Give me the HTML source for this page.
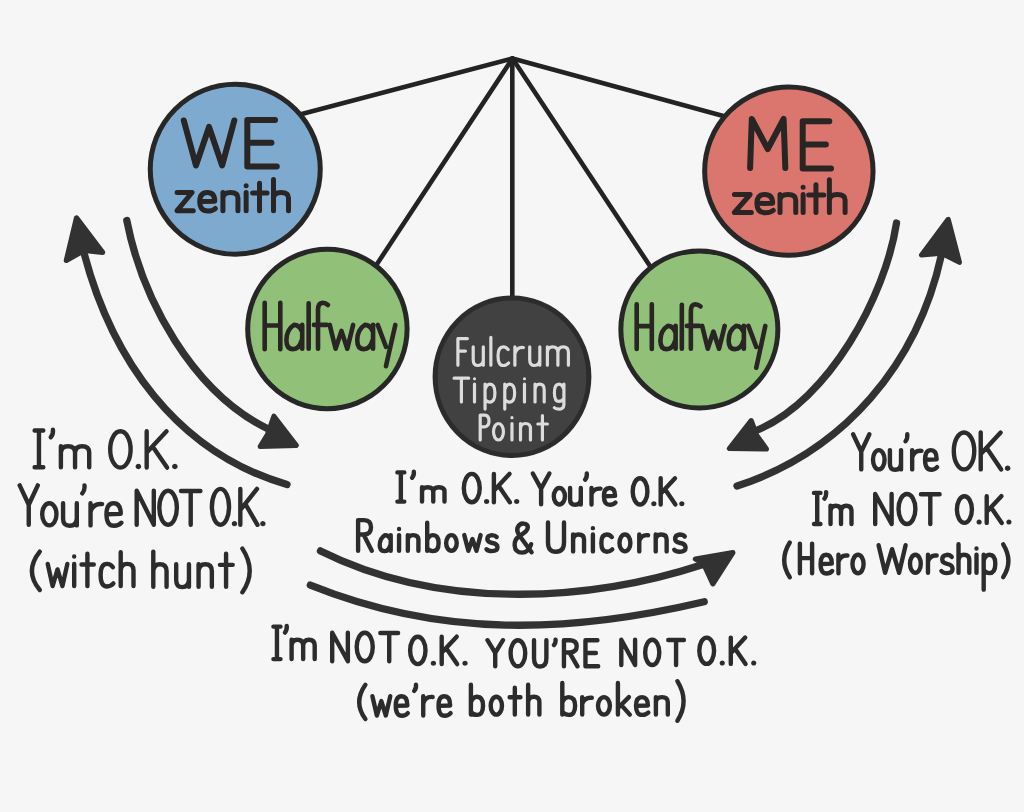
<!DOCTYPE html>
<html><head><meta charset="utf-8">
<style>
html,body{margin:0;padding:0;background:#f6f6f6;}
body{width:1024px;height:812px;overflow:hidden;}
svg{display:block;}
text{font-family:"Liberation Sans",sans-serif;}
</style></head><body>
<svg width="1024" height="812" viewBox="0 0 1024 812">
<rect width="1024" height="812" fill="#f6f6f6"/>
<!-- pendulum lines -->
<g stroke="#232323" stroke-width="4.6" stroke-linecap="round" fill="none">
<line x1="512.5" y1="58.5" x2="298" y2="115"/>
<line x1="512.5" y1="58.5" x2="727" y2="117"/>
<line x1="512.5" y1="58.5" x2="375.7" y2="266"/>
<line x1="512.5" y1="58.5" x2="651.8" y2="268.8"/>
<line x1="512.3" y1="58.5" x2="512.3" y2="300"/>
</g>
<!-- circles -->
<g stroke="#272727" stroke-width="5">
<circle cx="235.25" cy="169.25" r="85" fill="#7eaacf"/>
<circle cx="788.85" cy="171.1" r="84.2" fill="#db766f"/>
<circle cx="327.4" cy="329" r="79.7" fill="#91c078"/>
<circle cx="699.35" cy="329.4" r="78.5" fill="#91c078"/>
<ellipse cx="512" cy="376.8" rx="76.9" ry="78.7" fill="#404140" stroke="#2c2c2c"/>
</g>
<!-- arrows -->
<g stroke="#323232" stroke-width="7.3" stroke-linecap="round" fill="none">
<path d="M287.0 484.5 C176.0 452.3 111.1 357.9 83.5 251.0"/>
<path d="M126.8 220.5 C142.4 300.1 192.6 391.6 267.2 428.6"/>
<path d="M896.5 223.0 C885.4 296.3 828.9 400.0 757.4 430.0"/>
<path d="M737.0 486.0 C844.3 451.4 917.7 363.4 941.4 255.0"/>
<path d="M320.5 550.9 C436.2 608.6 581.9 604.1 703.0 564.5"/>
<path d="M310.3 585.1 C441.1 637.8 568.7 633.5 704.2 601.7"/>
</g>
<g fill="#323232" stroke="#323232" stroke-width="5.2" stroke-linejoin="round">
<polygon points="76.5,217.9 66.3,260.5 84.0,250.5 102.6,252.4"/>
<polygon points="273.9,416.3 296.2,445.4 260.2,446.5 267.5,434.5"/>
<polygon points="751.2,420.7 729.4,448.5 766.4,449.0 756.6,435.2"/>
<polygon points="948.2,219.4 921.6,255.0 941.6,253.2 959.4,262.3"/>
<polygon points="695.4,559.0 732.9,552.6 712.9,583.8 703.4,563.4"/>
</g>
<g fill="none" stroke-linecap="round" stroke-linejoin="round" vector-effect="non-scaling-stroke">
<path vector-effect="non-scaling-stroke" transform="translate(183.80 165.50) scale(0.9352 0.4592)" d="M0.00 -98.00 L13.00 0.00 L27.00 -84.00 L41.00 0.00 L54.00 -98.00" stroke="#292524" stroke-width="6.00"/>
<path vector-effect="non-scaling-stroke" transform="translate(244.62 166.50) scale(0.8939 0.4745)" d="M34.00 -98.00 L3.00 -98.00 L3.00 0.00 L36.00 0.00 M3.00 -50.00 L30.00 -50.00" stroke="#292524" stroke-width="6.00"/>
<path vector-effect="non-scaling-stroke" transform="translate(175.95 210.70) scale(0.5772 0.3120)" d="M2.00 -58.30 L28.00 -58.30 L2.00 0.00 L30.00 0.00 M42.20 -29.20 L67.20 -30.30 Q67.20 -58.30 54.20 -58.30 Q41.20 -58.30 41.20 -29.20 Q41.20 1.00 55.20 1.00 Q63.20 1.00 68.20 -7.00 M81.40 -58.30 L81.40 0.00 M81.40 -40.80 Q82.40 -58.30 94.40 -58.30 Q107.40 -58.30 107.40 -40.80 L107.40 0.00 M121.60 -58.30 L121.60 0.00 M121.60 -80.30 L121.60 -80.20 M144.80 -88.30 L144.80 0.00 M132.80 -56.60 L157.80 -56.60 M169.00 -100.00 L169.00 0.00 M169.00 -40.80 Q170.00 -58.30 182.00 -58.30 Q195.00 -58.30 195.00 -40.80 L195.00 0.00" stroke="#292524" stroke-width="5.00"/>
<path vector-effect="non-scaling-stroke" transform="translate(747.59 168.00) scale(0.8381 0.5000)" d="M3.00 0.00 L5.00 -98.00 L24.00 -38.00 L43.00 -98.00 L45.00 0.00" stroke="#292524" stroke-width="6.00"/>
<path vector-effect="non-scaling-stroke" transform="translate(800.13 168.60) scale(0.8576 0.4827)" d="M34.00 -98.00 L3.00 -98.00 L3.00 0.00 L36.00 0.00 M3.00 -50.00 L30.00 -50.00" stroke="#292524" stroke-width="6.00"/>
<path vector-effect="non-scaling-stroke" transform="translate(733.19 212.50) scale(0.6050 0.3270)" d="M2.00 -55.00 L28.00 -55.00 L2.00 0.00 L30.00 0.00 M40.20 -27.50 L65.20 -28.60 Q65.20 -55.00 52.20 -55.00 Q39.20 -55.00 39.20 -27.50 Q39.20 1.00 53.20 1.00 Q61.20 1.00 66.20 -6.60 M77.40 -55.00 L77.40 0.00 M77.40 -38.50 Q78.40 -55.00 90.40 -55.00 Q103.40 -55.00 103.40 -38.50 L103.40 0.00 M115.59 -55.00 L115.59 0.00 M115.59 -77.00 L115.59 -76.90 M136.79 -85.00 L136.79 0.00 M124.79 -53.40 L149.79 -53.40 M158.99 -100.00 L158.99 0.00 M158.99 -38.50 Q159.99 -55.00 171.99 -55.00 Q184.99 -55.00 184.99 -38.50 L184.99 0.00" stroke="#292524" stroke-width="5.00"/>
<path vector-effect="non-scaling-stroke" transform="translate(263.19 349.20) scale(0.5032 0.4745)" d="M3.00 -98.00 L3.00 0.00 M34.00 -98.00 L34.00 0.00 M3.00 -50.00 L34.00 -50.00" stroke="#292524" stroke-width="4.60"/>
<path vector-effect="non-scaling-stroke" transform="translate(285.23 348.70) scale(0.5855 0.4550)" d="M28.00 -39.20 Q24.00 -52.30 15.00 -52.30 Q2.00 -41.80 2.00 -18.30 Q2.00 1.00 13.00 1.00 Q24.00 1.00 28.00 -18.30 M29.00 -52.30 L29.00 0.00 M40.00 -100.00 L40.00 0.00 M73.00 -96.00 Q69.00 -101.00 64.00 -101.00 Q56.00 -100.00 56.00 -86.00 L56.00 0.00 M49.00 -52.30 L71.00 -52.30 M76.00 -52.30 L86.00 0.00 L96.00 -39.20 L106.00 0.00 L116.00 -52.30 M149.00 -39.20 Q145.00 -52.30 136.00 -52.30 Q123.00 -41.80 123.00 -18.30 Q123.00 1.00 134.00 1.00 Q145.00 1.00 149.00 -18.30 M150.00 -52.30 L150.00 0.00 M158.00 -52.30 L172.00 -4.20 M188.00 -52.30 L172.00 38.60" stroke="#292524" stroke-width="4.60"/>
<path vector-effect="non-scaling-stroke" transform="translate(635.24 348.90) scale(0.4871 0.4561)" d="M3.00 -98.00 L3.00 0.00 M34.00 -98.00 L34.00 0.00 M3.00 -50.00 L34.00 -50.00" stroke="#292524" stroke-width="4.60"/>
<path vector-effect="non-scaling-stroke" transform="translate(659.27 348.70) scale(0.5640 0.4400)" d="M28.00 -38.90 Q24.00 -51.80 15.00 -51.80 Q2.00 -41.50 2.00 -18.10 Q2.00 1.00 13.00 1.00 Q24.00 1.00 28.00 -18.10 M29.00 -51.80 L29.00 0.00 M40.00 -100.00 L40.00 0.00 M73.00 -96.00 Q69.00 -101.00 64.00 -101.00 Q56.00 -100.00 56.00 -86.00 L56.00 0.00 M49.00 -51.80 L71.00 -51.80 M76.00 -51.80 L86.00 0.00 L96.00 -38.90 L106.00 0.00 L116.00 -51.80 M149.00 -38.90 Q145.00 -51.80 136.00 -51.80 Q123.00 -41.50 123.00 -18.10 Q123.00 1.00 134.00 1.00 Q145.00 1.00 149.00 -18.10 M150.00 -51.80 L150.00 0.00 M158.00 -51.80 L172.00 -4.10 M188.00 -51.80 L172.00 43.30" stroke="#292524" stroke-width="4.60"/>
<path vector-effect="non-scaling-stroke" transform="translate(456.92 365.20) scale(0.3276 0.2714)" d="M3.00 0.00 L3.00 -98.00 L32.00 -98.00 M3.00 -52.00 L26.00 -52.00" stroke="#dcdcdc" stroke-width="3.20"/>
<path vector-effect="non-scaling-stroke" transform="translate(471.99 365.20) scale(0.4046 0.2790)" d="M3.00 -65.90 L3.00 -19.80 Q3.00 1.00 15.00 1.00 Q27.00 1.00 28.00 -19.80 M28.00 -65.90 L28.00 0.00 M46.66 -100.00 L46.66 0.00 M89.33 -56.10 Q84.33 -65.90 77.33 -65.90 Q64.33 -65.90 64.33 -33.00 Q64.33 1.00 77.33 1.00 Q85.33 1.00 90.33 -7.90 M105.99 -65.90 L105.99 0.00 M105.99 -40.90 Q110.99 -65.90 126.99 -63.30 M142.66 -65.90 L142.66 -19.80 Q142.66 1.00 154.66 1.00 Q166.66 1.00 167.66 -19.80 M167.66 -65.90 L167.66 0.00 M186.32 -65.90 L186.32 0.00 M186.32 -46.20 Q187.32 -65.90 199.32 -65.90 Q212.32 -65.90 212.32 -46.20 L212.32 0.00 M212.32 -46.20 Q213.32 -65.90 225.32 -65.90 Q238.32 -65.90 238.32 -46.20 L238.32 0.00" stroke="#dcdcdc" stroke-width="3.20"/>
<path vector-effect="non-scaling-stroke" transform="translate(454.10 401.90) scale(0.3476 0.2449)" d="M0.00 -97.00 L42.00 -97.00 M21.00 -97.00 L21.00 0.00" stroke="#dcdcdc" stroke-width="3.20"/>
<path vector-effect="non-scaling-stroke" transform="translate(473.44 401.90) scale(0.3524 0.2430)" d="M3.00 -73.30 L3.00 0.00 M3.00 -95.30 L3.00 -95.20 M32.94 -73.30 L32.94 29.70 M32.94 -51.30 Q37.94 -73.30 46.94 -73.30 Q60.94 -73.30 60.94 -36.60 Q60.94 1.00 46.94 1.00 Q37.94 1.00 32.94 -11.00 M88.89 -73.30 L88.89 29.70 M88.89 -51.30 Q93.89 -73.30 102.89 -73.30 Q116.89 -73.30 116.89 -36.60 Q116.89 1.00 102.89 1.00 Q93.89 1.00 88.89 -11.00 M144.83 -73.30 L144.83 0.00 M144.83 -95.30 L144.83 -95.20 M174.78 -73.30 L174.78 0.00 M174.78 -51.30 Q175.78 -73.30 187.78 -73.30 Q200.78 -73.30 200.78 -51.30 L200.78 0.00 M256.72 -73.30 L256.72 11.90 Q255.72 29.70 241.72 29.70 Q232.72 28.80 229.72 23.80 M256.72 -51.30 Q251.72 -73.30 242.72 -73.30 Q229.72 -73.30 229.72 -38.10 Q229.72 -2.00 242.72 -2.00 Q251.72 -2.00 256.72 -14.70" stroke="#dcdcdc" stroke-width="3.20"/>
<path vector-effect="non-scaling-stroke" transform="translate(479.45 440.00) scale(0.2514 0.2531)" d="M3.00 0.00 L3.00 -98.00 L20.00 -98.00 Q38.00 -97.00 38.00 -75.00 Q38.00 -53.00 20.00 -52.00 L3.00 -52.00" stroke="#dcdcdc" stroke-width="3.20"/>
<path vector-effect="non-scaling-stroke" transform="translate(492.73 440.00) scale(0.3828 0.2640)" d="M2.00 -31.25 A13 31.25 0 1 1 28.00 -31.25 A13 31.25 0 1 1 2.00 -31.25 M50.27 -62.50 L50.27 0.00 M50.27 -84.50 L50.27 -84.40 M72.54 -62.50 L72.54 0.00 M72.54 -43.80 Q73.54 -62.50 85.54 -62.50 Q98.54 -62.50 98.54 -43.80 L98.54 0.00 M129.80 -92.50 L129.80 0.00 M117.80 -60.60 L142.80 -60.60" stroke="#dcdcdc" stroke-width="3.20"/>
<path vector-effect="non-scaling-stroke" transform="translate(34.60 467.30) scale(0.5445 0.3755)" d="M0.00 -98.00 L16.00 -98.00 M8.00 -98.00 L8.00 0.00 M0.00 0.00 L16.00 0.00 M33.64 -100.00 Q34.64 -88.00 29.64 -80.00 M48.28 -55.90 L48.28 0.00 M48.28 -39.10 Q49.28 -55.90 61.28 -55.90 Q74.28 -55.90 74.28 -39.10 L74.28 0.00 M74.28 -39.10 Q75.28 -55.90 87.28 -55.90 Q100.28 -55.90 100.28 -39.10 L100.28 0.00" stroke="#2c2c2c" stroke-width="4.40"/>
<path vector-effect="non-scaling-stroke" transform="translate(109.13 467.60) scale(0.5371 0.3704)" d="M2.00 -49.00 A19 49 0 1 1 40.00 -49.00 A19 49 0 1 1 2.00 -49.00 M53.26 -3.00 L55.66 -3.00 M54.46 -4.20 L54.46 -1.80 M69.92 -98.00 L69.92 0.00 M106.92 -98.00 L70.92 -42.00 M81.92 -55.00 L107.92 0.00 M121.18 -3.00 L123.58 -3.00 M122.38 -4.20 L122.38 -1.80" stroke="#2c2c2c" stroke-width="4.40"/>
<path vector-effect="non-scaling-stroke" transform="translate(19.70 524.80) scale(0.4525 0.4020)" d="M0.00 -98.00 L20.00 -50.00 L40.00 -98.00 M20.00 -50.00 L20.00 0.00" stroke="#2c2c2c" stroke-width="4.40"/>
<path vector-effect="non-scaling-stroke" transform="translate(41.10 525.40) scale(0.5493 0.4000)" d="M2.00 -27.75 A13 27.75 0 1 1 28.00 -27.75 A13 27.75 0 1 1 2.00 -27.75 M40.00 -55.50 L40.00 -16.70 Q40.00 1.00 52.00 1.00 Q64.00 1.00 65.00 -16.70 M65.00 -55.50 L65.00 0.00 M79.00 -100.00 Q80.00 -88.00 75.00 -80.00 M90.00 -55.50 L90.00 0.00 M90.00 -34.40 Q95.00 -55.50 111.00 -53.30 M120.00 -27.80 L145.00 -28.90 Q145.00 -55.50 132.00 -55.50 Q119.00 -55.50 119.00 -27.80 Q119.00 1.00 133.00 1.00 Q141.00 1.00 146.00 -6.70" stroke="#2c2c2c" stroke-width="4.40"/>
<path vector-effect="non-scaling-stroke" transform="translate(135.32 524.80) scale(0.4616 0.3480)" d="M3.00 0.00 L3.00 -98.00 L40.00 0.00 L40.00 -98.00 M52.00 -49.00 A19 49 0 1 1 90.00 -49.00 A19 49 0 1 1 52.00 -49.00 M99.00 -97.00 L141.00 -97.00 M120.00 -97.00 L120.00 0.00" stroke="#2c2c2c" stroke-width="4.40"/>
<path vector-effect="non-scaling-stroke" transform="translate(211.00 524.80) scale(0.4510 0.3663)" d="M2.00 -49.00 A19 49 0 1 1 40.00 -49.00 A19 49 0 1 1 2.00 -49.00 M50.80 -3.00 L53.20 -3.00 M52.00 -4.20 L52.00 -1.80 M65.00 -98.00 L65.00 0.00 M102.00 -98.00 L66.00 -42.00 M77.00 -55.00 L103.00 0.00 M113.80 -3.00 L116.20 -3.00 M115.00 -4.20 L115.00 -1.80" stroke="#2c2c2c" stroke-width="4.40"/>
<path vector-effect="non-scaling-stroke" transform="translate(28.31 586.60) scale(0.7182 0.3398)" d="M16.00 -103.00 Q-6.00 -45.00 16.00 10.00" stroke="#2c2c2c" stroke-width="4.40"/>
<path vector-effect="non-scaling-stroke" transform="translate(47.70 586.10) scale(0.4915 0.3390)" d="M0.00 -65.50 L10.00 0.00 L20.00 -49.10 L30.00 0.00 L40.00 -65.50 M53.89 -65.50 L53.89 0.00 M53.89 -87.50 L53.89 -87.40 M80.77 -95.50 L80.77 0.00 M68.77 -63.50 L93.77 -63.50 M132.66 -55.70 Q127.66 -65.50 120.66 -65.50 Q107.66 -65.50 107.66 -32.70 Q107.66 1.00 120.66 1.00 Q128.66 1.00 133.66 -7.90 M148.55 -100.00 L148.55 0.00 M148.55 -45.80 Q149.55 -65.50 161.55 -65.50 Q174.55 -65.50 174.55 -45.80 L174.55 0.00" stroke="#2c2c2c" stroke-width="4.40"/>
<path vector-effect="non-scaling-stroke" transform="translate(151.77 586.80) scale(0.5104 0.3520)" d="M3.00 -100.00 L3.00 0.00 M3.00 -44.90 Q4.00 -64.20 16.00 -64.20 Q29.00 -64.20 29.00 -44.90 L29.00 0.00 M47.85 -64.20 L47.85 -19.30 Q47.85 1.00 59.85 1.00 Q71.85 1.00 72.85 -19.30 M72.85 -64.20 L72.85 0.00 M91.71 -64.20 L91.71 0.00 M91.71 -44.90 Q92.71 -64.20 104.71 -64.20 Q117.71 -64.20 117.71 -44.90 L117.71 0.00 M145.56 -94.20 L145.56 0.00 M133.56 -62.30 L158.56 -62.30" stroke="#2c2c2c" stroke-width="4.40"/>
<path vector-effect="non-scaling-stroke" transform="translate(240.41 588.43) scale(0.6636 0.3867)" d="M3.00 -103.00 Q25.00 -45.00 3.00 10.00" stroke="#2c2c2c" stroke-width="4.40"/>
<path vector-effect="non-scaling-stroke" transform="translate(397.40 501.60) scale(0.4320 0.2980)" d="M0.00 -98.00 L16.00 -98.00 M8.00 -98.00 L8.00 0.00 M0.00 0.00 L16.00 0.00 M38.01 -100.00 Q39.01 -88.00 34.01 -80.00 M57.02 -48.30 L57.02 0.00 M57.02 -33.80 Q58.02 -48.30 70.02 -48.30 Q83.02 -48.30 83.02 -33.80 L83.02 0.00 M83.02 -33.80 Q84.02 -48.30 96.02 -48.30 Q109.02 -48.30 109.02 -33.80 L109.02 0.00" stroke="#2c2c2c" stroke-width="4.40"/>
<path vector-effect="non-scaling-stroke" transform="translate(462.96 502.30) scale(0.4202 0.2898)" d="M2.00 -49.00 A19 49 0 1 1 40.00 -49.00 A19 49 0 1 1 2.00 -49.00 M55.09 -3.00 L57.49 -3.00 M56.29 -4.20 L56.29 -1.80 M73.59 -98.00 L73.59 0.00 M110.59 -98.00 L74.59 -42.00 M85.59 -55.00 L111.59 0.00 M126.68 -3.00 L129.08 -3.00 M127.88 -4.20 L127.88 -1.80" stroke="#2c2c2c" stroke-width="4.40"/>
<path vector-effect="non-scaling-stroke" transform="translate(532.80 504.30) scale(0.4150 0.3143)" d="M0.00 -98.00 L20.00 -50.00 L40.00 -98.00 M20.00 -50.00 L20.00 0.00" stroke="#2c2c2c" stroke-width="4.40"/>
<path vector-effect="non-scaling-stroke" transform="translate(552.94 504.50) scale(0.4285 0.3100)" d="M2.00 -26.61 A13 26.61 0 1 1 28.00 -26.61 A13 26.61 0 1 1 2.00 -26.61 M40.00 -53.20 L40.00 -16.00 Q40.00 1.00 52.00 1.00 Q64.00 1.00 65.00 -16.00 M65.00 -53.20 L65.00 0.00 M79.00 -100.00 Q80.00 -88.00 75.00 -80.00 M90.00 -53.20 L90.00 0.00 M90.00 -33.00 Q95.00 -53.20 111.00 -51.10 M120.00 -26.60 L145.00 -27.70 Q145.00 -53.20 132.00 -53.20 Q119.00 -53.20 119.00 -26.60 Q119.00 1.00 133.00 1.00 Q141.00 1.00 146.00 -6.40" stroke="#2c2c2c" stroke-width="4.40"/>
<path vector-effect="non-scaling-stroke" transform="translate(631.92 504.50) scale(0.3877 0.2673)" d="M2.00 -49.00 A19 49 0 1 1 40.00 -49.00 A19 49 0 1 1 2.00 -49.00 M55.38 -3.00 L57.78 -3.00 M56.58 -4.20 L56.58 -1.80 M74.17 -98.00 L74.17 0.00 M111.17 -98.00 L75.17 -42.00 M86.17 -55.00 L112.17 0.00 M127.55 -3.00 L129.95 -3.00 M128.75 -4.20 L128.75 -1.80" stroke="#2c2c2c" stroke-width="4.40"/>
<path vector-effect="non-scaling-stroke" transform="translate(356.93 550.80) scale(0.3914 0.3133)" d="M3.00 0.00 L3.00 -98.00 L19.00 -98.00 Q36.00 -97.00 36.00 -75.00 Q36.00 -53.00 19.00 -52.00 L3.00 -52.00 M17.00 -52.00 L38.00 0.00" stroke="#2c2c2c" stroke-width="4.40"/>
<path vector-effect="non-scaling-stroke" transform="translate(378.89 550.80) scale(0.4074 0.2810)" d="M28.00 -41.90 Q24.00 -55.90 15.00 -55.90 Q2.00 -44.70 2.00 -19.60 Q2.00 1.00 13.00 1.00 Q24.00 1.00 28.00 -19.60 M29.00 -55.90 L29.00 0.00 M49.52 -55.90 L49.52 0.00 M49.52 -77.90 L49.52 -77.80 M71.04 -55.90 L71.04 0.00 M71.04 -39.10 Q72.04 -55.90 84.04 -55.90 Q97.04 -55.90 97.04 -39.10 L97.04 0.00 M118.56 -100.00 L118.56 0.00 M118.56 -39.10 Q123.56 -55.90 132.56 -55.90 Q146.56 -55.90 146.56 -27.90 Q146.56 1.00 132.56 1.00 Q123.56 1.00 118.56 -8.40 M165.08 -27.94 A13 27.94 0 1 1 191.08 -27.94 A13 27.94 0 1 1 165.08 -27.94 M209.60 -55.90 L219.60 0.00 L229.60 -41.90 L239.60 0.00 L249.60 -55.90 M289.12 -49.20 Q285.12 -55.90 277.12 -55.90 Q266.12 -54.20 266.12 -41.90 Q266.12 -30.70 278.12 -27.90 Q291.12 -25.10 291.12 -12.30 Q291.12 1.00 277.12 1.00 Q268.12 1.00 264.12 -5.60" stroke="#2c2c2c" stroke-width="4.40"/>
<path vector-effect="non-scaling-stroke" transform="translate(513.70 552.30) scale(0.4712 0.2900)" d="M38.00 0.00 L12.00 -58.00 Q6.00 -72.00 8.00 -84.00 Q12.00 -100.00 21.00 -99.00 Q30.00 -98.00 30.00 -86.00 Q30.00 -72.00 12.00 -56.00 Q1.00 -44.00 2.00 -24.00 Q3.00 1.00 18.00 1.00 Q31.00 1.00 37.00 -28.00" stroke="#2c2c2c" stroke-width="4.40"/>
<path vector-effect="non-scaling-stroke" transform="translate(546.50 551.40) scale(0.5000 0.2959)" d="M3.00 -98.00 L3.00 -30.00 Q3.00 1.00 19.00 1.00 Q35.00 1.00 35.00 -30.00 L35.00 -98.00" stroke="#2c2c2c" stroke-width="4.40"/>
<path vector-effect="non-scaling-stroke" transform="translate(571.84 551.40) scale(0.4205 0.2900)" d="M3.00 -58.30 L3.00 0.00 M3.00 -40.80 Q4.00 -58.30 16.00 -58.30 Q29.00 -58.30 29.00 -40.80 L29.00 0.00 M50.09 -58.30 L50.09 0.00 M50.09 -80.30 L50.09 -80.20 M95.18 -49.50 Q90.18 -58.30 83.18 -58.30 Q70.18 -58.30 70.18 -29.10 Q70.18 1.00 83.18 1.00 Q91.18 1.00 96.18 -7.00 M113.27 -29.14 A13 29.14 0 1 1 139.27 -29.14 A13 29.14 0 1 1 113.27 -29.14 M160.36 -58.30 L160.36 0.00 M160.36 -36.10 Q165.36 -58.30 181.36 -55.90 M199.45 -58.30 L199.45 0.00 M199.45 -40.80 Q200.45 -58.30 212.45 -58.30 Q225.45 -58.30 225.45 -40.80 L225.45 0.00 M268.54 -51.30 Q264.54 -58.30 256.54 -58.30 Q245.54 -56.50 245.54 -43.70 Q245.54 -32.10 257.54 -29.10 Q270.54 -26.20 270.54 -12.80 Q270.54 1.00 256.54 1.00 Q247.54 1.00 243.54 -5.80" stroke="#2c2c2c" stroke-width="4.40"/>
<path vector-effect="non-scaling-stroke" transform="translate(853.10 469.40) scale(0.4075 0.3592)" d="M0.00 -98.00 L20.00 -50.00 L40.00 -98.00 M20.00 -50.00 L20.00 0.00" stroke="#2c2c2c" stroke-width="4.40"/>
<path vector-effect="non-scaling-stroke" transform="translate(872.11 469.40) scale(0.4451 0.3520)" d="M2.00 -27.41 A13 27.41 0 1 1 28.00 -27.41 A13 27.41 0 1 1 2.00 -27.41 M40.00 -54.80 L40.00 -16.40 Q40.00 1.00 52.00 1.00 Q64.00 1.00 65.00 -16.40 M65.00 -54.80 L65.00 0.00 M79.00 -100.00 Q80.00 -88.00 75.00 -80.00 M90.00 -54.80 L90.00 0.00 M90.00 -34.00 Q95.00 -54.80 111.00 -52.60 M120.00 -27.40 L145.00 -28.50 Q145.00 -54.80 132.00 -54.80 Q119.00 -54.80 119.00 -27.40 Q119.00 1.00 133.00 1.00 Q141.00 1.00 146.00 -6.60" stroke="#2c2c2c" stroke-width="4.40"/>
<path vector-effect="non-scaling-stroke" transform="translate(952.72 469.40) scale(0.5385 0.3765)" d="M2.00 -49.00 A19 49 0 1 1 40.00 -49.00 A19 49 0 1 1 2.00 -49.00 M52.00 -98.00 L52.00 0.00 M89.00 -98.00 L53.00 -42.00 M64.00 -55.00 L90.00 0.00 M100.80 -3.00 L103.20 -3.00 M102.00 -4.20 L102.00 -1.80" stroke="#2c2c2c" stroke-width="4.40"/>
<path vector-effect="non-scaling-stroke" transform="translate(814.00 524.00) scale(0.4032 0.3173)" d="M0.00 -98.00 L16.00 -98.00 M8.00 -98.00 L8.00 0.00 M0.00 0.00 L16.00 0.00 M30.00 -100.00 Q31.00 -88.00 26.00 -80.00 M41.00 -57.40 L41.00 0.00 M41.00 -40.10 Q42.00 -57.40 54.00 -57.40 Q67.00 -57.40 67.00 -40.10 L67.00 0.00 M67.00 -40.10 Q68.00 -57.40 80.00 -57.40 Q93.00 -57.40 93.00 -40.10 L93.00 0.00" stroke="#2c2c2c" stroke-width="4.40"/>
<path vector-effect="non-scaling-stroke" transform="translate(873.87 524.00) scale(0.4439 0.3061)" d="M3.00 0.00 L3.00 -98.00 L40.00 0.00 L40.00 -98.00 M55.54 -49.00 A19 49 0 1 1 93.54 -49.00 A19 49 0 1 1 55.54 -49.00 M106.09 -97.00 L148.09 -97.00 M127.09 -97.00 L127.09 0.00" stroke="#2c2c2c" stroke-width="4.40"/>
<path vector-effect="non-scaling-stroke" transform="translate(956.11 522.90) scale(0.3951 0.2724)" d="M2.00 -49.00 A19 49 0 1 1 40.00 -49.00 A19 49 0 1 1 2.00 -49.00 M57.03 -3.00 L59.43 -3.00 M58.23 -4.20 L58.23 -1.80 M77.46 -98.00 L77.46 0.00 M114.46 -98.00 L78.46 -42.00 M89.46 -55.00 L115.46 0.00 M132.49 -3.00 L134.89 -3.00 M133.69 -4.20 L133.69 -1.80" stroke="#2c2c2c" stroke-width="4.40"/>
<path vector-effect="non-scaling-stroke" transform="translate(781.65 574.22) scale(0.5091 0.3080)" d="M16.00 -103.00 Q-6.00 -45.00 16.00 10.00" stroke="#2c2c2c" stroke-width="4.40"/>
<path vector-effect="non-scaling-stroke" transform="translate(798.72 573.20) scale(0.3935 0.3020)" d="M3.00 -98.00 L3.00 0.00 M34.00 -98.00 L34.00 0.00 M3.00 -50.00 L34.00 -50.00" stroke="#2c2c2c" stroke-width="4.40"/>
<path vector-effect="non-scaling-stroke" transform="translate(819.74 573.20) scale(0.4292 0.2960)" d="M3.00 -31.10 L28.00 -32.30 Q28.00 -62.20 15.00 -62.20 Q2.00 -62.20 2.00 -31.10 Q2.00 1.00 16.00 1.00 Q24.00 1.00 29.00 -7.50 M43.59 -62.20 L43.59 0.00 M43.59 -38.50 Q48.59 -62.20 64.59 -59.70 M76.19 -31.08 A13 31.08 0 1 1 102.19 -31.08 A13 31.08 0 1 1 76.19 -31.08" stroke="#2c2c2c" stroke-width="4.40"/>
<path vector-effect="non-scaling-stroke" transform="translate(878.60 572.80) scale(0.5000 0.2816)" d="M0.00 -98.00 L13.00 0.00 L27.00 -84.00 L41.00 0.00 L54.00 -98.00" stroke="#2c2c2c" stroke-width="4.40"/>
<path vector-effect="non-scaling-stroke" transform="translate(909.17 572.80) scale(0.4147 0.2860)" d="M2.00 -31.47 A13 31.47 0 1 1 28.00 -31.47 A13 31.47 0 1 1 2.00 -31.47 M45.34 -62.90 L45.34 0.00 M45.34 -39.00 Q50.34 -62.90 66.34 -60.40 M102.68 -55.40 Q98.68 -62.90 90.68 -62.90 Q79.68 -61.00 79.68 -47.20 Q79.68 -34.60 91.68 -31.50 Q104.68 -28.30 104.68 -13.80 Q104.68 1.00 90.68 1.00 Q81.68 1.00 77.68 -6.30 M119.01 -100.00 L119.01 0.00 M119.01 -44.10 Q120.01 -62.90 132.01 -62.90 Q145.01 -62.90 145.01 -44.10 L145.01 0.00 M162.35 -62.90 L162.35 0.00 M162.35 -84.90 L162.35 -84.80 M179.69 -62.90 L179.69 58.90 M179.69 -44.10 Q184.69 -62.90 193.69 -62.90 Q207.69 -62.90 207.69 -31.50 Q207.69 1.00 193.69 1.00 Q184.69 1.00 179.69 -9.40" stroke="#2c2c2c" stroke-width="4.40"/>
<path vector-effect="non-scaling-stroke" transform="translate(1001.78 574.21) scale(0.4727 0.2894)" d="M3.00 -103.00 Q25.00 -45.00 3.00 10.00" stroke="#2c2c2c" stroke-width="4.40"/>
<path vector-effect="non-scaling-stroke" transform="translate(273.40 659.10) scale(0.4441 0.3316)" d="M0.00 -98.00 L16.00 -98.00 M8.00 -98.00 L8.00 0.00 M0.00 0.00 L16.00 0.00 M30.00 -100.00 Q31.00 -88.00 26.00 -80.00 M41.00 -58.20 L41.00 0.00 M41.00 -40.70 Q42.00 -58.20 54.00 -58.20 Q67.00 -58.20 67.00 -40.70 L67.00 0.00 M67.00 -40.70 Q68.00 -58.20 80.00 -58.20 Q93.00 -58.20 93.00 -40.70 L93.00 0.00" stroke="#2c2c2c" stroke-width="4.40"/>
<path vector-effect="non-scaling-stroke" transform="translate(330.93 661.30) scale(0.4232 0.2918)" d="M3.00 0.00 L3.00 -98.00 L40.00 0.00 L40.00 -98.00 M60.87 -49.00 A19 49 0 1 1 98.87 -49.00 A19 49 0 1 1 60.87 -49.00 M116.73 -97.00 L158.73 -97.00 M137.73 -97.00 L137.73 0.00" stroke="#2c2c2c" stroke-width="4.40"/>
<path vector-effect="non-scaling-stroke" transform="translate(409.29 664.10) scale(0.4054 0.2796)" d="M2.00 -49.00 A19 49 0 1 1 40.00 -49.00 A19 49 0 1 1 2.00 -49.00 M58.28 -3.00 L60.68 -3.00 M59.48 -4.20 L59.48 -1.80 M79.97 -98.00 L79.97 0.00 M116.97 -98.00 L80.97 -42.00 M91.97 -55.00 L117.97 0.00 M136.25 -3.00 L138.65 -3.00 M137.45 -4.20 L137.45 -1.80" stroke="#2c2c2c" stroke-width="4.40"/>
<path vector-effect="non-scaling-stroke" transform="translate(487.50 666.30) scale(0.3862 0.2663)" d="M0.00 -98.00 L20.00 -50.00 L40.00 -98.00 M20.00 -50.00 L20.00 0.00 M59.73 -49.00 A19 49 0 1 1 97.73 -49.00 A19 49 0 1 1 59.73 -49.00 M120.46 -98.00 L120.46 -30.00 Q120.46 1.00 136.46 1.00 Q152.46 1.00 152.46 -30.00 L152.46 -98.00 M176.20 -100.00 Q177.20 -88.00 172.20 -80.00 M197.93 0.00 L197.93 -98.00 L213.93 -98.00 Q230.93 -97.00 230.93 -75.00 Q230.93 -53.00 213.93 -52.00 L197.93 -52.00 M211.93 -52.00 L232.93 0.00 M284.66 -98.00 L253.66 -98.00 L253.66 0.00 L286.66 0.00 M253.66 -50.00 L280.66 -50.00" stroke="#2c2c2c" stroke-width="4.40"/>
<path vector-effect="non-scaling-stroke" transform="translate(620.18 665.00) scale(0.3729 0.2571)" d="M3.00 0.00 L3.00 -98.00 L40.00 0.00 L40.00 -98.00 M66.95 -49.00 A19 49 0 1 1 104.95 -49.00 A19 49 0 1 1 66.95 -49.00 M128.89 -97.00 L170.89 -97.00 M149.89 -97.00 L149.89 0.00" stroke="#2c2c2c" stroke-width="4.40"/>
<path vector-effect="non-scaling-stroke" transform="translate(698.52 663.90) scale(0.3891 0.2684)" d="M2.00 -49.00 A19 49 0 1 1 40.00 -49.00 A19 49 0 1 1 2.00 -49.00 M59.76 -3.00 L62.16 -3.00 M60.96 -4.20 L60.96 -1.80 M82.92 -98.00 L82.92 0.00 M119.92 -98.00 L83.92 -42.00 M94.92 -55.00 L120.92 0.00 M140.68 -3.00 L143.08 -3.00 M141.88 -4.20 L141.88 -1.80" stroke="#2c2c2c" stroke-width="4.40"/>
<path vector-effect="non-scaling-stroke" transform="translate(356.38 715.96) scale(0.5636 0.3035)" d="M16.00 -103.00 Q-6.00 -45.00 16.00 10.00" stroke="#2c2c2c" stroke-width="4.40"/>
<path vector-effect="non-scaling-stroke" transform="translate(372.40 715.50) scale(0.4466 0.3080)" d="M0.00 -62.70 L10.00 0.00 L20.00 -47.00 L30.00 0.00 L40.00 -62.70 M53.28 -31.30 L78.28 -32.60 Q78.28 -62.70 65.28 -62.70 Q52.28 -62.70 52.28 -31.30 Q52.28 1.00 66.28 1.00 Q74.28 1.00 79.28 -7.50 M97.55 -100.00 Q98.55 -88.00 93.55 -80.00 M113.83 -62.70 L113.83 0.00 M113.83 -38.90 Q118.83 -62.70 134.83 -60.20 M149.10 -31.30 L174.10 -32.60 Q174.10 -62.70 161.10 -62.70 Q148.10 -62.70 148.10 -31.30 Q148.10 1.00 162.10 1.00 Q170.10 1.00 175.10 -7.50" stroke="#2c2c2c" stroke-width="4.40"/>
<path vector-effect="non-scaling-stroke" transform="translate(469.60 714.60) scale(0.4335 0.2990)" d="M3.00 -100.00 L3.00 0.00 M3.00 -41.90 Q8.00 -59.90 17.00 -59.90 Q31.00 -59.90 31.00 -29.90 Q31.00 1.00 17.00 1.00 Q8.00 1.00 3.00 -9.00 M48.67 -29.93 A13 29.93 0 1 1 74.67 -29.93 A13 29.93 0 1 1 48.67 -29.93 M104.33 -89.90 L104.33 0.00 M92.33 -58.10 L117.33 -58.10 M135.00 -100.00 L135.00 0.00 M135.00 -41.90 Q136.00 -59.90 148.00 -59.90 Q161.00 -59.90 161.00 -41.90 L161.00 0.00" stroke="#2c2c2c" stroke-width="4.40"/>
<path vector-effect="non-scaling-stroke" transform="translate(560.93 714.60) scale(0.4582 0.3160)" d="M3.00 -100.00 L3.00 0.00 M3.00 -38.80 Q8.00 -55.40 17.00 -55.40 Q31.00 -55.40 31.00 -27.70 Q31.00 1.00 17.00 1.00 Q8.00 1.00 3.00 -8.30 M46.45 -55.40 L46.45 0.00 M46.45 -34.30 Q51.45 -55.40 67.45 -53.20 M80.90 -27.69 A13 27.69 0 1 1 106.90 -27.69 A13 27.69 0 1 1 80.90 -27.69 M124.35 -100.00 L124.35 0.00 M148.35 -55.40 L126.35 -23.30 M133.35 -27.70 L150.35 0.00 M164.80 -27.70 L189.80 -28.80 Q189.80 -55.40 176.80 -55.40 Q163.80 -55.40 163.80 -27.70 Q163.80 1.00 177.80 1.00 Q185.80 1.00 190.80 -6.60 M207.25 -55.40 L207.25 0.00 M207.25 -38.80 Q208.25 -55.40 220.25 -55.40 Q233.25 -55.40 233.25 -38.80 L233.25 0.00" stroke="#2c2c2c" stroke-width="4.40"/>
<path vector-effect="non-scaling-stroke" transform="translate(675.71 717.30) scale(0.5636 0.3504)" d="M3.00 -103.00 Q25.00 -45.00 3.00 10.00" stroke="#2c2c2c" stroke-width="4.40"/>
</g>
</svg>
</body></html>
